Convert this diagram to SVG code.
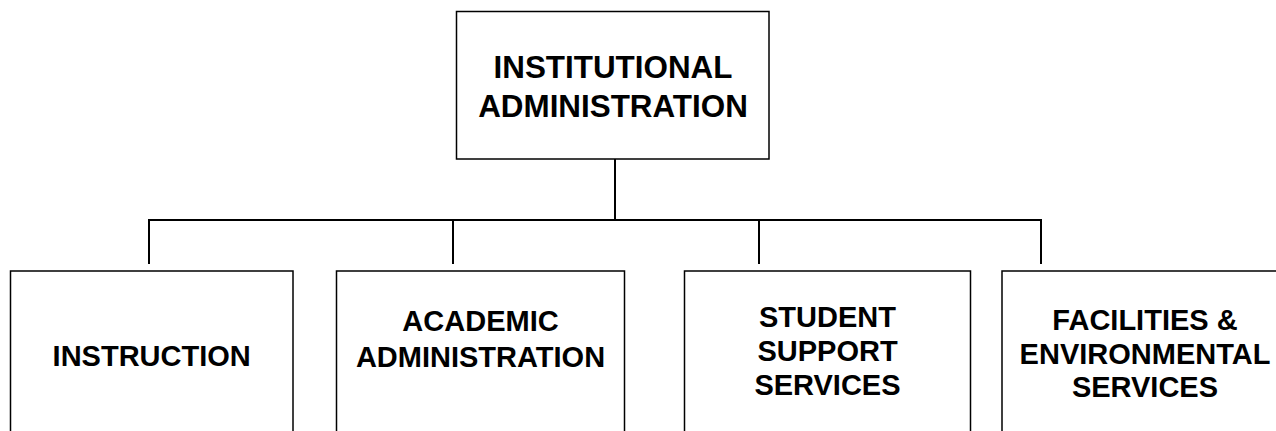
<svg xmlns="http://www.w3.org/2000/svg" width="1276" height="431" viewBox="0 0 1276 431">
<style>
.box{fill:#fff;stroke:#000;stroke-width:1.5}
.conn{stroke:#000;stroke-width:2;fill:none}
text{font-family:"Liberation Sans",Arial,sans-serif;font-weight:bold;fill:#000;text-anchor:middle}
.t1{font-size:31.4px}
.t2{font-size:29px}
</style>
<rect width="1276" height="431" fill="#fff"/>
<g id="connectors">
<line class="conn" x1="615" y1="159" x2="615" y2="220"/>
<line class="conn" x1="148" y1="220" x2="1042" y2="220"/>
<line class="conn" x1="149" y1="219" x2="149" y2="264"/>
<line class="conn" x1="453" y1="220" x2="453" y2="264"/>
<line class="conn" x1="759" y1="220" x2="759" y2="264"/>
<line class="conn" x1="1041" y1="219" x2="1041" y2="264"/>
</g>
<g id="institutional-administration">
<rect class="box" x="456.5" y="11.5" width="312.5" height="147.5"/>
<text class="t1" x="613" y="78.3">INSTITUTIONAL</text>
<text class="t1" x="613" y="116.7">ADMINISTRATION</text>
</g>
<g id="instruction">
<rect class="box" x="10.5" y="271" width="282.5" height="180"/>
<text class="t2" x="151.7" y="366">INSTRUCTION</text>
</g>
<g id="academic-administration">
<rect class="box" x="336.5" y="271" width="288" height="180"/>
<text class="t2" x="480.5" y="331">ACADEMIC</text>
<text class="t2" x="480.5" y="366.7">ADMINISTRATION</text>
</g>
<g id="student-support-services">
<rect class="box" x="684.5" y="271" width="286" height="180"/>
<text class="t2" x="827.5" y="327">STUDENT</text>
<text class="t2" x="827.5" y="361">SUPPORT</text>
<text class="t2" x="827.5" y="395">SERVICES</text>
</g>
<g id="facilities-environmental-services">
<rect class="box" x="1002" y="271" width="290" height="180"/>
<text class="t2" x="1145" y="330">FACILITIES &amp;</text>
<text class="t2" x="1145" y="363.5">ENVIRONMENTAL</text>
<text class="t2" x="1145" y="396.7">SERVICES</text>
</g>
</svg>
